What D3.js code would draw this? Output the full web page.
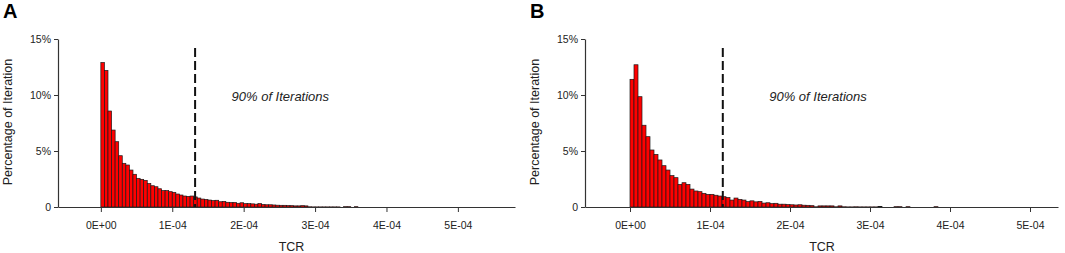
<!DOCTYPE html>
<html lang="en">
<head>
    <meta charset="UTF-8">
    <title>TCR histograms</title>
    <script src="https://d3js.org/d3.v7.min.js"></script>
    <style>
        body {
            margin: 0;
            background: #fff;
            font-family: Arial, "Liberation Sans", sans-serif;
        }
        .tick-label {
            font-size: 10.5px;
            fill: #222;
        }
        .axis-title {
            font-size: 12.5px;
            fill: #222;
        }
        .panel-label {
            font-size: 20px;
            font-weight: bold;
            fill: #000;
        }
        .note {
            font-size: 13px;
            font-style: italic;
            fill: #222;
        }
    </style>
</head>
<body>
    <svg width="1065" height="253"></svg>
    <script>
        // bin width of the histograms (TCR units)
        const binWidth = 5e-6;

        // percentage of iterations per bin, panel A
        const valuesA = [
            12.9, 12.2, 8.57, 6.87, 5.83, 4.58, 3.9, 3.75, 3.3, 2.92, 2.56, 2.47, 2.38, 2.1, 1.9, 1.81, 1.63, 1.46, 1.46, 1.37,
            1.31, 1.16, 1.07, 0.98, 0.95, 0.98, 0.9, 0.8, 0.71, 0.68, 0.62, 0.57, 0.6, 0.47, 0.5, 0.42, 0.4, 0.4, 0.33, 0.38,
            0.3, 0.3, 0.28, 0.25, 0.3, 0.22, 0.2, 0.2, 0.18, 0.16, 0.15, 0.15, 0.13, 0.12, 0.1, 0.1, 0.12, 0.1, 0.02, 0.01,
            0.01, 0.01, 0.01, 0.01, 0.01, 0.01, 0.01, 0, 0.03, 0.03, 0, 0.03
        ];

        // percentage of iterations per bin, panel B
        const valuesB = [
            11.4, 12.7, 9.85, 7.3, 6.28, 5.09, 4.7, 4.2, 3.69, 3.3, 2.8, 2.62, 2.02, 2.17, 2.02, 1.6, 1.43, 1.37, 1.22, 1.13,
            1.13, 1.05, 0.98, 0.92, 0.85, 0.62, 0.8, 0.68, 0.62, 0.48, 0.55, 0.46, 0.5, 0.35, 0.38, 0.3, 0.33, 0.25, 0.25, 0.22,
            0.2, 0.18, 0.2, 0.16, 0.15, 0.12, 0.02, 0.1, 0.1, 0.1, 0.1, 0.02, 0.1, 0.02, 0.01, 0.01, 0.02, 0.01, 0.01, 0.01,
            0.01, 0.01, 0.05, 0, 0, 0, 0.03, 0.03, 0, 0.03, 0, 0, 0, 0, 0, 0, 0.03, 0, 0, 0
        ];

        // 90% cut-off for each panel
        const cutoffA = 1.32e-4;
        const cutoffB = 1.16e-4;

        const xTicks = [0, 1e-4, 2e-4, 3e-4, 4e-4, 5e-4];
        const xTickLabels = ["0E+00", "1E-04", "2E-04", "3E-04", "4E-04", "5E-04"];
        const yTicks = [0, 5, 10, 15];
        const yTickLabels = ["0", "5%", "10%", "15%"];

        const svg = d3.select("svg");

        function drawPanel(cfg) {
            const g = svg.append("g");

            const x = d3.scaleLinear().domain(cfg.xDomain).range(cfg.xRange);
            const y = d3.scaleLinear().domain([0, 15]).range([207, 39]);

            const bins = cfg.values.map((v, i) => ({ x0: i * binWidth, x1: (i + 1) * binWidth, v: v }));

            // bars
            g.selectAll(".bar")
                .data(bins)
                .enter()
                .append("rect")
                .attr("class", "bar")
                .attr("x", d => x(d.x0))
                .attr("width", d => x(d.x1) - x(d.x0))
                .attr("y", d => y(d.v))
                .attr("height", d => y(0) - y(d.v))
                .attr("fill", "#ff0000")
                .attr("stroke", "#1a1a1a")
                .attr("stroke-width", 0.7);

            // x axis
            const xAxis = g.append("g")
                .attr("transform", `translate(0,${y(0)})`)
                .call(d3.axisBottom(x).tickValues(xTicks).tickSize(5).tickSizeOuter(0)
                    .tickFormat((d, i) => xTickLabels[i]));
            xAxis.select(".domain").attr("stroke", "#333").attr("stroke-width", 1.2);
            xAxis.selectAll(".tick line").attr("stroke", "#333");
            xAxis.selectAll(".tick text").attr("class", "tick-label").attr("dy", "1.35em")
                .attr("font-family", null).attr("font-size", null);

            // y axis
            const yAxis = g.append("g")
                .attr("transform", `translate(${cfg.xRange[0]},0)`)
                .call(d3.axisLeft(y).tickValues(yTicks).tickSize(4).tickSizeOuter(0)
                    .tickFormat((d, i) => yTickLabels[i]));
            yAxis.select(".domain").attr("stroke", "#333").attr("stroke-width", 1.2);
            yAxis.selectAll(".tick line").attr("stroke", "#333");
            yAxis.selectAll(".tick text").attr("class", "tick-label").attr("x", -7)
                .attr("font-family", null).attr("font-size", null);

            // cut-off line
            g.append("line")
                .attr("x1", x(cfg.cutoff))
                .attr("x2", x(cfg.cutoff))
                .attr("y1", 48)
                .attr("y2", y(0))
                .attr("stroke", "#111")
                .attr("stroke-width", 2)
                .attr("stroke-dasharray", "9,4");

            g.append("text")
                .attr("class", "note")
                .attr("x", x(cfg.noteX))
                .attr("y", y(9.45))
                .text("90% of Iterations");

            // titles
            g.append("text")
                .attr("class", "axis-title")
                .attr("text-anchor", "middle")
                .attr("transform", `translate(${cfg.xRange[0] - 46},122) rotate(-90)`)
                .text("Percentage of Iteration");

            g.append("text")
                .attr("class", "axis-title")
                .attr("text-anchor", "middle")
                .attr("x", x(cfg.tcrX))
                .attr("y", 251)
                .text("TCR");

            g.append("text")
                .attr("class", "panel-label")
                .attr("x", cfg.xRange[0] - 55)
                .attr("y", 18)
                .text(cfg.label);
        }

        drawPanel({
            label: "A",
            values: valuesA,
            cutoff: cutoffA,
            xDomain: [-0.6e-4, 5.8e-4],
            xRange: [58, 515],
            noteX: 1.83e-4,
            tcrX: 2.67e-4
        });

        drawPanel({
            label: "B",
            values: valuesB,
            cutoff: cutoffB,
            xDomain: [-0.5625e-4, 5.35e-4],
            xRange: [585, 1058],
            noteX: 1.74e-4,
            tcrX: 2.4e-4
        });
    </script>
</body>
</html>
